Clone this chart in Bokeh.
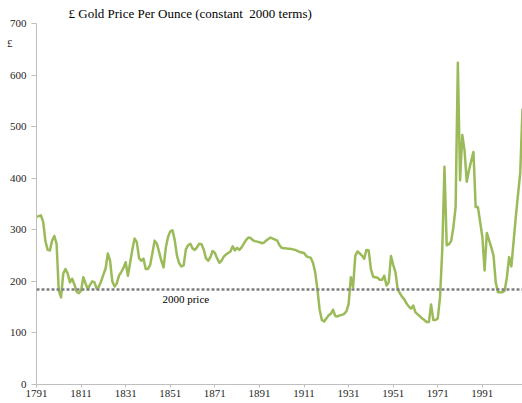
from bokeh.plotting import figure
from bokeh.models import Range1d, FixedTicker, Span, Label, ColumnDataSource, LinearAxis
from bokeh.embed import file_html
from bokeh.resources import INLINE

years = [1791, 1793, 1794, 1795, 1796, 1797, 1798, 1799, 1800, 1801, 1802, 1803, 1804, 1805,
         1806, 1807, 1808, 1809, 1810, 1811, 1812, 1813, 1814, 1815, 1816, 1817, 1818, 1819,
         1820, 1821, 1822, 1823, 1824, 1825, 1826, 1827, 1828, 1829, 1830, 1831, 1832, 1833,
         1834, 1835, 1836, 1837, 1838, 1839, 1840, 1841, 1842, 1843, 1844, 1845, 1846, 1847,
         1848, 1849, 1850, 1851, 1852, 1853, 1854, 1855, 1856, 1857, 1858, 1859, 1860, 1861,
         1862, 1863, 1864, 1865, 1866, 1867, 1868, 1869, 1870, 1871, 1872, 1873, 1874, 1875,
         1876, 1877, 1878, 1879, 1880, 1881, 1882, 1883, 1884, 1885, 1886, 1887, 1888, 1889,
         1890, 1891, 1892, 1893, 1894, 1895, 1896, 1897, 1898, 1899, 1900, 1901, 1902, 1903,
         1904, 1905, 1906, 1907, 1908, 1909, 1910, 1911, 1912, 1913, 1914, 1915, 1916, 1917,
         1918, 1919, 1920, 1921, 1922, 1923, 1924, 1925, 1926, 1927, 1928, 1929, 1930, 1931,
         1932, 1933, 1934, 1935, 1936, 1937, 1938, 1939, 1940, 1941, 1942, 1943, 1944, 1945,
         1946, 1947, 1948, 1949, 1950, 1951, 1952, 1953, 1954, 1955, 1956, 1957, 1958, 1959,
         1960, 1961, 1962, 1963, 1964, 1965, 1966, 1967, 1968, 1969, 1970, 1971, 1972, 1973,
         1974, 1975, 1976, 1977, 1978, 1979, 1980, 1981, 1982, 1983, 1984, 1985, 1987, 1988,
         1989, 1991, 1992, 1993, 1995, 1996, 1997, 1998, 1999, 2000, 2001, 2002, 2003, 2004,
         2006, 2008, 2009]
prices = [325, 328, 315, 278, 261, 260, 279, 288, 273, 182, 169, 215, 224, 215,
          198, 205, 194, 180, 177, 182, 208, 196, 185, 193, 200, 198, 186, 190,
          200, 213, 225, 254, 240, 200, 190, 196, 211, 218, 226, 237, 211, 236,
          262, 283, 276, 245, 240, 244, 224, 224, 232, 255, 279, 273, 257, 240,
          227, 265, 286, 297, 299, 280, 250, 235, 229, 231, 262, 270, 273, 264,
          261, 266, 273, 272, 262, 245, 240, 247, 259, 255, 245, 236, 240, 248,
          252, 255, 258, 268, 260, 265, 261, 266, 273, 280, 285, 284, 280, 278,
          277, 276, 274, 275, 279, 282, 285, 283, 281, 279, 270, 265, 264, 264,
          263, 263, 262, 261, 259, 257, 256, 255, 249, 247, 246, 236, 218, 185,
          145, 125, 122, 128, 134, 137, 145, 133, 132, 134, 135, 137, 142, 156,
          208, 189, 250, 258, 254, 250, 244, 261, 260, 224, 209, 208, 207, 203,
          203, 211, 192, 198, 249, 232, 218, 185, 177, 170, 165, 157, 151, 147,
          153, 140, 136, 132, 128, 125, 121, 121, 155, 125, 125, 128, 169, 260,
          422, 270, 272, 278, 305, 344, 624, 396, 484, 454, 393, 416, 451, 344,
          344, 286, 221, 294, 266, 250, 198, 179, 179, 179, 182, 208, 247, 229,
          325, 412, 535]

x_tick_years = [1791, 1811, 1831, 1851, 1871, 1891, 1911, 1931, 1951, 1971, 1991]
y_tick_values = [0, 100, 200, 300, 400, 500, 600, 700]
price_2000 = 184
title_text = "£ Gold Price Per Ounce (constant\u00a0 2000 terms)"
unit_text = "£"
ref_text = "2000 price"

FONT = "Liberation Serif"
TXT = "#262626"
AX = "#bfbfbf"

p = figure(width=522, height=403, output_backend="svg", toolbar_location=None,
           x_range=Range1d(1791, 2009), y_range=Range1d(0, 700),
           min_border_left=36, min_border_right=0, min_border_top=23, min_border_bottom=19)
p.outline_line_color = None
p.xgrid.visible = False
p.ygrid.visible = False
p.background_fill_color = "white"

p.title.text = title_text
p.title.text_font = FONT
p.title.text_font_size = "13px"
p.title.text_font_style = "normal"
p.title.text_color = "#000000"
p.title.align = "left"
p.title.offset = 32
p.title.standoff = 6

src = ColumnDataSource(dict(x=years, y=prices))
p.line("x", "y", source=src, line_color="#9BBB59", line_width=2.5, line_join="round")

p.add_layout(Span(location=price_2000, dimension="width", line_color="#7f7f7f",
                  line_width=2.5, line_dash="3 2"))

p.xaxis.ticker = FixedTicker(ticks=x_tick_years)
p.yaxis.ticker = FixedTicker(ticks=y_tick_values)
for ax in (p.xaxis, p.yaxis):
    ax.axis_line_color = AX
    ax.major_tick_line_color = AX
    ax.minor_tick_line_color = None
    ax.major_tick_in = 0
    ax.major_label_text_font = FONT
    ax.major_label_text_font_size = "11px"
    ax.major_label_text_color = TXT
p.xaxis.major_tick_out = 3
p.xaxis.major_label_standoff = 2
p.yaxis.major_tick_out = 5
p.yaxis.major_label_standoff = 5

# unit marker "£" drawn as a one-label axis beside the value axis
unit_axis = LinearAxis(ticker=FixedTicker(ticks=[662]), major_label_overrides={662: unit_text},
                       axis_line_color=None, major_tick_line_color=None,
                       minor_tick_line_color=None, major_tick_out=0, major_tick_in=0,
                       major_label_standoff=-6, major_label_text_font=FONT,
                       major_label_text_font_size="11px", major_label_text_color=TXT)
p.add_layout(unit_axis, "left")

p.add_layout(Label(x=1847.5, y=166, text=ref_text, text_font=FONT, text_font_size="11px",
                   text_color="#000000", text_baseline="middle"))

open("out.html", "w").write(file_html(p, INLINE))
